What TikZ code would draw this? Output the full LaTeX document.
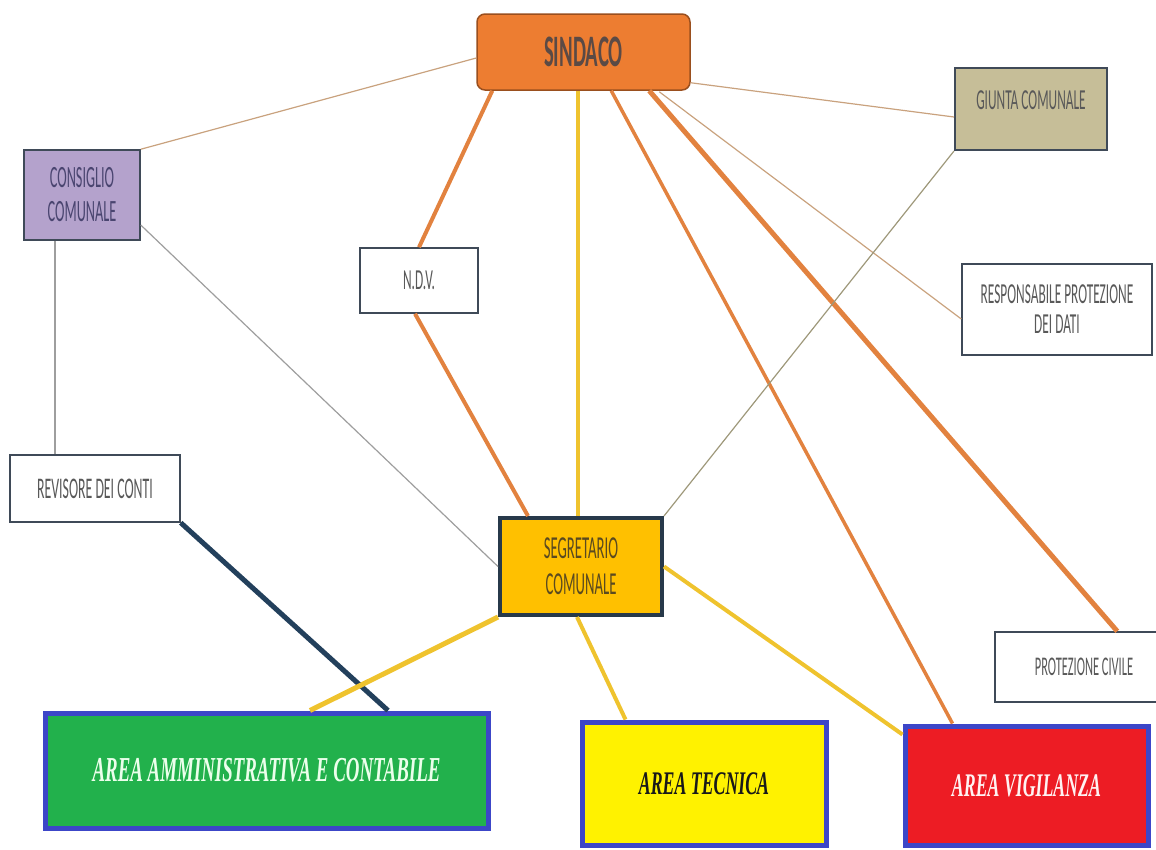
\documentclass[tikz,border=0pt]{standalone}
\usepackage{fontspec}
\newfontfamily\boxfont[FakeStretch=0.46]{Carlito}
\newfontfamily\areafont[FakeStretch=0.54]{Liberation Serif}
\definecolor{sindfill}{HTML}{ED7D31}
\definecolor{sindline}{HTML}{9A4F1E}
\definecolor{sindtext}{HTML}{5B4A45}
\definecolor{consfill}{HTML}{B4A2CC}
\definecolor{constext}{HTML}{4A4570}
\definecolor{giunfill}{HTML}{C6BE98}
\definecolor{segfill}{HTML}{FFC000}
\definecolor{segline}{HTML}{27394A}
\definecolor{segtext}{HTML}{5A4A20}
\definecolor{boxline}{HTML}{3F4A58}
\definecolor{boxtext}{HTML}{595959}
\definecolor{arealine}{HTML}{3C46C8}
\definecolor{ammfill}{HTML}{22B14C}
\definecolor{tecfill}{HTML}{FFF200}
\definecolor{vigfill}{HTML}{ED1C24}
\definecolor{tanline}{HTML}{C9A27E}
\definecolor{grayline}{HTML}{9E9E9E}
\definecolor{orline}{HTML}{E2823F}
\definecolor{yeline}{HTML}{EFC32E}
\definecolor{navyline}{HTML}{23405C}
\begin{document}
\begin{tikzpicture}[x=1pt,y=-1pt]
  \tikzset{office/.style={draw=boxline, line width=1.5pt, fill=white, align=center, text=boxtext, inner sep=2pt,
      font=\boxfont\fontsize{29}{30}\selectfont},
    area/.style={draw=arealine, line width=5pt, align=center, inner sep=2pt,
      font=\areafont\bfseries\itshape\fontsize{35}{36}\selectfont},
    thinlink/.style={draw=tanline, line width=1.2pt},
    graylink/.style={draw=grayline, line width=1.2pt},
    orlink/.style={draw=orline, line width=4pt},
    yelink/.style={draw=yeline, line width=3.5pt}}
  \useasboundingbox (0,0) rectangle (1156,849);

  \node[office, draw=sindline, fill=sindfill, rounded corners=8pt, text=sindtext, minimum width=213pt, minimum height=76pt,
    font=\boxfont\bfseries\fontsize{45}{46}\selectfont] at (583.5,52) (sindaco) {SINDACO};
  \node[office, fill=consfill, text=constext, minimum width=116pt, minimum height=90pt,
    font=\boxfont\fontsize{31}{34}\selectfont] at (82,195) (consiglio) {CONSIGLIO\\COMUNALE};
  \node[office, line width=2pt, fill=giunfill, minimum width=152pt, minimum height=82pt] at (1031,109) (giunta) {GIUNTA COMUNALE\\[-12pt]};
  \node[office, minimum width=118pt, minimum height=65pt] at (419,280.5) (ndv) {N.D.V.};
  \node[office, minimum width=190pt, minimum height=91pt] at (1057,309.5) (rpd) {RESPONSABILE PROTEZIONE\\DEI DATI};
  \node[office, minimum width=170pt, minimum height=67pt, font=\boxfont\fontsize{30}{30}\selectfont] at (95,488.5) (revisore) {REVISORE DEI CONTI};
  \node[office, draw=segline, line width=4pt, fill=segfill, text=segtext, minimum width=162pt, minimum height=97pt,
    font=\boxfont\fontsize{32}{36}\selectfont] at (581,566.5) (segretario) {SEGRETARIO\\COMUNALE};
  \node[office, minimum width=170pt, minimum height=70pt, font=\boxfont\fontsize{27}{28}\selectfont] at (1080,667) (protciv) {\hspace*{8pt}PROTEZIONE CIVILE};

  \node[area, fill=ammfill, text=green!8, minimum width=443pt, minimum height=115pt] at (266.5,770.5) (amm) {AREA AMMINISTRATIVA E CONTABILE};
  \node[area, fill=tecfill, text=black!90, minimum width=244pt, minimum height=123pt, font=\areafont\bfseries\itshape\fontsize{33}{36}\selectfont] at (704,783.5) (tecnica) {AREA TECNICA};
  \node[area, fill=vigfill, text=red!5, minimum width=243pt, minimum height=119pt, font=\areafont\bfseries\itshape\fontsize{33}{36}\selectfont] at (1026.5,785.5) (vigilanza) {AREA VIGILANZA};

  % from the mayor
  \path[thinlink] ([yshift=-6pt]sindaco.west) edge (consiglio.north east);
  \path[thinlink] ([yshift=8pt]sindaco.south east) edge ([yshift=-8pt]giunta.west);
  \path[thinlink] ([xshift=183pt,yshift=-1pt]sindaco.south west) edge ([yshift=-9.5pt]rpd.west);
  \path[orlink] ([xshift=16pt]sindaco.south west) edge (ndv.north);
  \path[orlink] ([xshift=-4pt]ndv.south) edge ([xshift=30pt]segretario.north west);
  \path[yelink] ([xshift=-5.5pt]sindaco.south) edge ([xshift=-3pt]segretario.north);
  \path[orlink, line width=3.5pt] ([xshift=135pt]sindaco.south west) edge ([xshift=50pt]vigilanza.north west);
  \path[orlink, line width=5pt] ([xshift=173pt]sindaco.south west) edge ([xshift=123pt]protciv.north west);

  % council and board
  \path[graylink] ([xshift=-27pt]consiglio.south) edge ([xshift=-40pt]revisore.north);
  \path[graylink] ([yshift=-30pt]consiglio.east) edge (segretario.west);
  \path[graylink, draw=giunfill!80!black] (giunta.south west) edge (segretario.north east);

  % down to the areas
  \path[draw=navyline, line width=5pt] (revisore.south east) edge ([xshift=121.5pt]amm.north);
  \path[yelink, line width=5pt] (segretario.south west) edge ([xshift=43.5pt]amm.north);
  \path[yelink, line width=4pt] ([xshift=-4pt]segretario.south) edge ([xshift=46pt]tecnica.north west);
  \path[yelink, line width=4pt] (segretario.east) edge ([yshift=-11pt]vigilanza.north west);

\end{tikzpicture}
\end{document}
